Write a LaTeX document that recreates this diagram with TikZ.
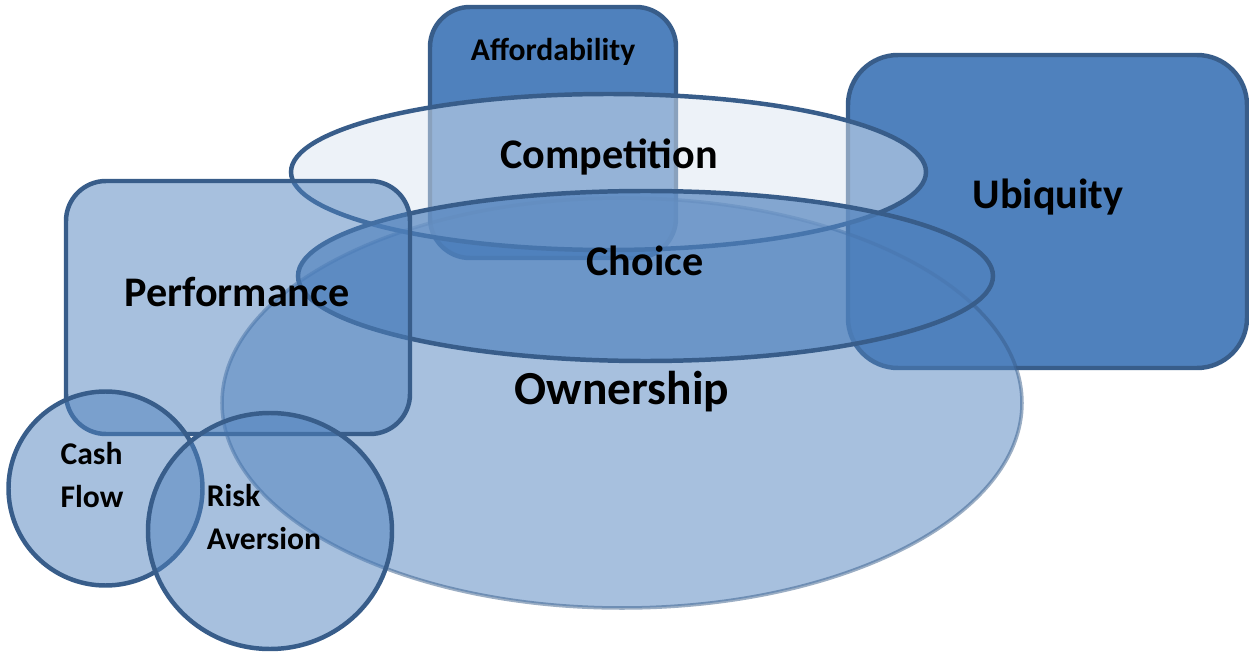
\documentclass[tikz,border=0pt]{standalone}
\usepackage{fontspec}
\setmainfont{Carlito}
\usepackage{tikz}
\usepackage{xcolor}

\definecolor{accblue}{HTML}{4F81BD}
\definecolor{accline}{HTML}{385D8A}
\definecolor{acclight}{HTML}{DBE5F1}

\begin{document}
\begin{tikzpicture}[x=0.02cm,y=-0.02cm,
		blob/.style={draw=accline,line width=2.55pt,fill=accblue,fill opacity=0.5},
		solidbox/.style={draw=accline,line width=2.55pt,fill=accblue},
		bigtext/.style={font=\bfseries\fontsize{24}{29}\selectfont},
		smalltext/.style={font=\bfseries\fontsize{18}{25}\selectfont,align=left}]
			\useasboundingbox (0,0) rectangle (1249,652);

			% solid boxes at the back
			\draw[solidbox,rounded corners=0.8cm](430,7) rectangle (676,258);
			\draw[solidbox,rounded corners=1cm](848,55) rectangle (1247,368);

			% ownership
			\draw[blob,draw opacity=0.5,line width=2pt](622,403) ellipse (400 and 205);

			% competition and choice
			\draw[blob,fill=acclight](608.5,172) ellipse (317.5 and 78);
			\draw[blob,fill opacity=0.67](645.5,276) ellipse (347.5 and 85);

			% performance
			\draw[blob,rounded corners=0.8cm](66,181) rectangle (410,434);

			% cash flow and risk aversion
			\draw[blob](105.5,488.5) circle (97);
			\draw[blob](270,531) ellipse (122 and 118);

			\node[smalltext] (afford) at (553,52){Affordability};
			\node[bigtext] (compet) at (609,157){Competition};
			\node[bigtext] (choice) at (645,261){Choice};
			\node[bigtext] (ubiq) at (1048,197){Ubiquity};
			\node[bigtext] (perf) at (237,292){Performance};
			\node[bigtext,font=\bfseries\fontsize{27}{32}\selectfont] (owner) at (622,392){Ownership};
			\node[smalltext] (cash) at (92,475){Cash\\Flow};
			\node[smalltext] (risk) at (264,517){Risk\\Aversion};
		\end{tikzpicture}
\end{document}
